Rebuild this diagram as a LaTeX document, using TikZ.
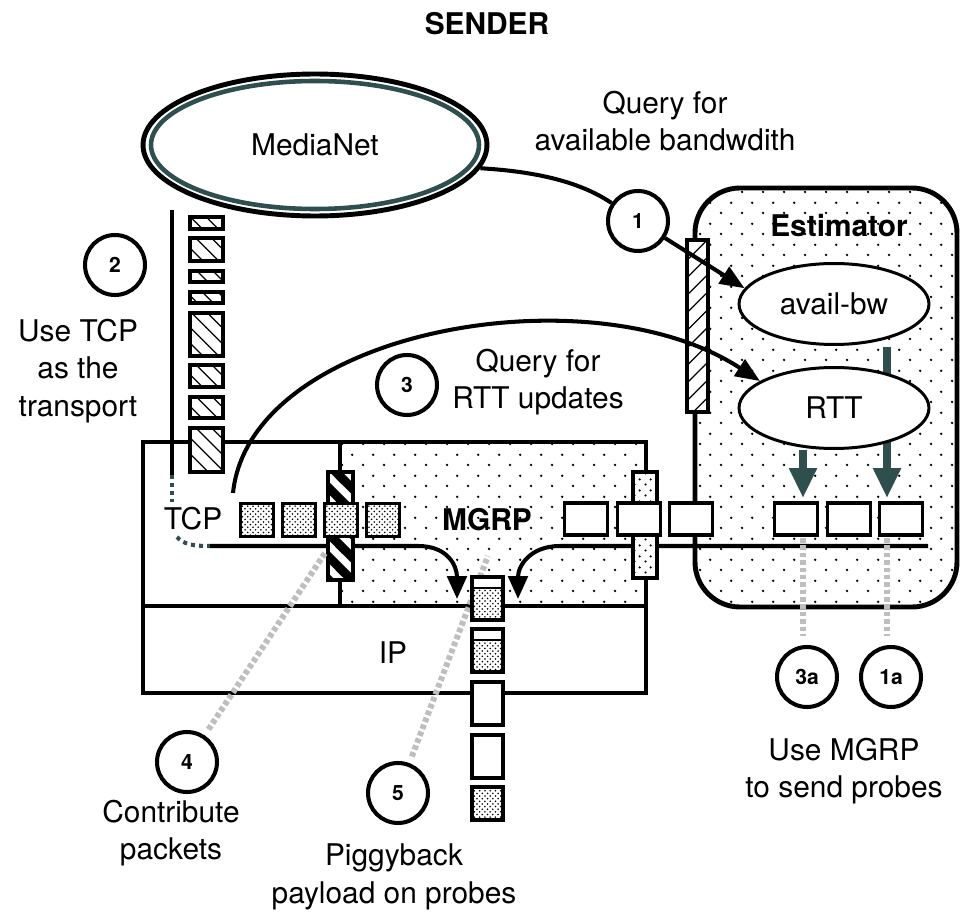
\documentclass[tikz,border=0pt]{standalone}
\usepackage{fontspec}
\setmainfont{TeX Gyre Heros}
\usepackage{tikz}
\usetikzlibrary{
	arrows.meta,
	patterns,
	shapes.geometric
}
\definecolor{DarkTeal}{RGB}{47,79,79}
\definecolor{ProbeGray}{RGB}{190,190,190}

\pgfdeclarepatternformonly{sparsedots}{\pgfqpoint{0pt}{0pt}}{\pgfqpoint{12pt}{12pt}}{\pgfqpoint{12pt}{12pt}}{%
	\pgfpathcircle{\pgfqpoint{3pt}{3pt}}{0.8pt}%
	\pgfpathcircle{\pgfqpoint{9pt}{9pt}}{0.8pt}%
	\pgfusepath{fill}}
\pgfdeclarepatternformonly{meddots}{\pgfqpoint{0pt}{0pt}}{\pgfqpoint{6pt}{6pt}}{\pgfqpoint{6pt}{6pt}}{%
	\pgfpathcircle{\pgfqpoint{1.5pt}{1.5pt}}{0.7pt}%
	\pgfpathcircle{\pgfqpoint{4.5pt}{4.5pt}}{0.7pt}%
	\pgfusepath{fill}}
\pgfdeclarepatternformonly{hatchne}{\pgfqpoint{-1pt}{-1pt}}{\pgfqpoint{11pt}{11pt}}{\pgfqpoint{10pt}{10pt}}{%
	\pgfsetlinewidth{0.7pt}%
	\pgfpathmoveto{\pgfqpoint{0pt}{0pt}}\pgfpathlineto{\pgfqpoint{10.1pt}{10.1pt}}%
	\pgfusepath{stroke}}
\pgfdeclarepatternformonly{hatchnw}{\pgfqpoint{-1pt}{-1pt}}{\pgfqpoint{10pt}{10pt}}{\pgfqpoint{9pt}{9pt}}{%
	\pgfsetlinewidth{0.7pt}%
	\pgfpathmoveto{\pgfqpoint{0pt}{9pt}}\pgfpathlineto{\pgfqpoint{9.1pt}{-0.1pt}}%
	\pgfusepath{stroke}}
\pgfdeclarepatternformonly{stripesnw}{\pgfqpoint{0pt}{0pt}}{\pgfqpoint{13pt}{13pt}}{\pgfqpoint{13pt}{13pt}}{%
	\pgfsetlinewidth{5pt}%
	\pgfpathmoveto{\pgfqpoint{-1pt}{14pt}}\pgfpathlineto{\pgfqpoint{14pt}{-1pt}}%
	\pgfpathmoveto{\pgfqpoint{-3pt}{3pt}}\pgfpathlineto{\pgfqpoint{3pt}{-3pt}}%
	\pgfpathmoveto{\pgfqpoint{10pt}{16pt}}\pgfpathlineto{\pgfqpoint{16pt}{10pt}}%
	\pgfusepath{stroke}}

\begin{document}
\begin{tikzpicture}[x=0.02cm, y=-0.02cm,
		every node/.style={font=\fontsize{17}{21.5}\selectfont},
		badge/.style={circle, draw, fill=white, line width=2.3pt, minimum size=1.2cm, inner sep=0pt,
			font=\bfseries\fontsize{12}{14}\selectfont},
		est/.style={ellipse, draw, fill=white, line width=1.7pt, minimum width=3.8cm, minimum height=1.62cm},
		pkt/.style={draw, fill=white, line width=2pt, minimum width=0.86cm, minimum height=0.64cm, inner sep=0pt},
		tcppkt/.style={draw, line width=1.7pt, preaction={fill=white}, pattern=crosshatch dots,
			minimum size=0.66cm, inner sep=0pt},
		probe/.style={draw=ProbeGray, line width=3.4pt, dash pattern=on 2.6pt off 1.6pt},
		link/.style={line width=2.3pt},
		wall/.style={line width=2.8pt}]
	\useasboundingbox (0,0) rectangle (961,912);
	
	% estimator and MGRP areas
	\draw[wall, rounded corners=0.9cm, pattern=sparsedots] (695,188) rectangle (957,607);
	\fill[pattern=sparsedots] (340,442) rectangle (646,606);
	\draw[wall] (143,442) rectangle (646,693);
	\draw[wall] (340,442) -- (340,606);
	\draw[wall] (143,606) -- (646,606);
	
	\node (sender) at (487,24) {\bfseries SENDER};
	\node (estim) at (839,226) {\bfseries Estimator};
	\node (tcp) at (193,519) {TCP};
	\node (mgrp) at (487,520) {\bfseries MGRP};
	\node (ip) at (393,653) {IP};
	
	% MediaNet
	\node[ellipse, draw, line width=2.8pt, minimum width=6.88cm, minimum height=2.84cm] (mn) at (315,145) {MediaNet};
	\draw[DarkTeal, line width=2.6pt] (mn.center) ellipse [x radius=164, y radius=64];
	\node[align=center] (qbw) at (665,121) {Query for\\available bandwdith};
	
	% TCP stream from MediaNet
	\coordinate (stacktop) at (172,210);
	\coordinate (stackbot) at (172,475);
	\coordinate (tcpout) at (210,546);
	\coordinate (lineR) at (928,546);
	\coordinate (arrL) at (457,599);
	\coordinate (arrR) at (518,599);
	\draw[link] (stacktop) -- (stackbot);
	\draw[DarkTeal, link, dash pattern=on 2.3pt off 2.3pt] (stackbot) -- ++(0,27);
	\draw[DarkTeal, link, dash pattern=on 2.3pt off 2.3pt] (177,537) .. controls (184,545) and (195,546) .. (tcpout);
	\foreach \ya/\yb in {217/229, 238/261, 271/282, 292/303, 313/356, 365/387, 397/418, 428/472}
		\draw[line width=2pt, preaction={fill=white}, pattern=hatchnw] (190,\ya) rectangle (223,\yb);
	
	% packets into MGRP
	\draw[link, -{Triangle[width=11pt,length=13pt]}] (tcpout) -- (418,546) .. controls (448,546) and (457,566) .. (arrL);
	\draw[link, -{Triangle[width=11pt,length=13pt]}] (lineR) -- (560,546) .. controls (530,546) and (518,566) .. (arrR);
	\draw[link, preaction={fill=white}, pattern=stripesnw] (328,472) rectangle (353,580);
	\draw[link, preaction={fill=white}, pattern=meddots] (633,472) rectangle (657,578);
	\foreach \x [count=\i] in {257,299,341,383}
		\node[tcppkt] (tp\i) at (\x,520) {};
	\foreach \x [count=\i] in {586,639,691,796,849,901}
		\node[pkt] (mp\i) at (\x,519) {};
	\draw[link, preaction={fill=white}, pattern=hatchne] (687,240) rectangle (708,412);
	
	% probe labels
	\node[badge] (c1) at (638,221) {1};
	\node[badge] (c2) at (115,265) {2};
	\node[badge] (c3) at (407,385) {3};
	\node[badge] (c4) at (187,762) {4};
	\node[badge] (c5) at (398,793) {5};
	\node[badge] (c3a) at (807,677) {3a};
	\node[badge] (c1a) at (891,677) {1a};
	\coordinate (g4) at (325,553);
	\coordinate (g5) at (488,556);
	\coordinate (g3a) at (803,538);
	\coordinate (g1a) at (887,538);
	\draw[probe, shorten <=4pt] (c4) -- (g4);
	\draw[probe, shorten <=4pt] (c5) -- (g5);
	\draw[probe, shorten >=5pt] (g3a) -- (c3a.north -| g3a);
	\draw[probe, shorten >=5pt] (g1a) -- (c1a.north -| g1a);
	
	% packets leaving through IP
	\foreach \ya/\yb in {577/620, 629/672} {
		\fill[white] (472,\ya) rectangle (503,\yb);
		\fill[pattern=crosshatch dots] (472,{\ya+11}) rectangle (503,\yb);
		\draw[line width=1.4pt] (472,{\ya+11}) -- (503,{\ya+11});
		\draw[line width=2pt] (472,\ya) rectangle (503,\yb);
	}
	\draw[line width=2pt, fill=white] (472,682) rectangle (503,725);
	\draw[line width=2pt, fill=white] (472,735) rectangle (503,778);
	\draw[line width=2pt, preaction={fill=white}, pattern=crosshatch dots] (472,787) rectangle (503,820);
	
	% estimator internals
	\coordinate (tA) at (887,347);
	\coordinate (tAend) at (887,498);
	\coordinate (tB) at (803,450);
	\coordinate (tBend) at (803,498);
	\draw[DarkTeal, line width=4pt, -{Triangle[width=15pt,length=17pt]}] (tA) -- (tAend);
	\draw[DarkTeal, line width=4pt, -{Triangle[width=15pt,length=17pt]}] (tB) -- (tBend);
	\node[est] (abw) at (834,304) {avail-bw};
	\node[est] (rtt) at (834,408) {RTT};
	
	% queries
	\draw[link] (mn.-8) .. controls (545,172) and (585,185) .. (c1);
	\draw[link, -{Triangle[width=11pt,length=14pt]}] (c1) -- (abw.170);
	\coordinate (qstart) at (233,493);
	\draw[link, -{Triangle[width=11pt,length=14pt]}] (qstart) .. controls (250,330) and (590,270) .. (rtt.160);
	
	% texts
	\node[align=center] (usetcp) at (78,371) {Use TCP\\as the\\transport};
	\node[align=center] (qrtt) at (538,382) {Query for\\RTT updates};
	\node[align=center] (contrib) at (171,833) {Contribute\\packets};
	\node[align=center] (piggy) at (394,877) {Piggyback\\payload on probes};
	\node[align=center] (usemgrp) at (844,771) {Use MGRP\\to send probes};
\end{tikzpicture}
\end{document}
